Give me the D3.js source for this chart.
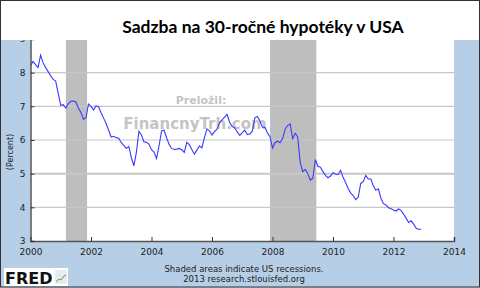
<!DOCTYPE html>
<html>
<head>
<meta charset="utf-8">
<script src="https://cdn.jsdelivr.net/npm/d3@7"></script>
<style>
  body { margin: 0; padding: 0; }
  svg { display: block; }
</style>
</head>
<body>
<svg id="chart" width="480" height="288"></svg>
<script>
// monthly 30-year mortgage rate, Jan 2000 .. Dec 2012
var years = [2000, 2001, 2002, 2003, 2004, 2005, 2006, 2007, 2008, 2009, 2010, 2011, 2012];
var rates = [
  [8.21, 8.33, 8.24, 8.15, 8.52, 8.29, 8.15, 8.03, 7.91, 7.80, 7.75, 7.38],
  [7.03, 7.05, 6.95, 7.08, 7.15, 7.16, 7.13, 6.95, 6.82, 6.62, 6.66, 7.07],
  [7.00, 6.89, 7.01, 6.99, 6.81, 6.65, 6.49, 6.29, 6.09, 6.11, 6.07, 6.05],
  [5.92, 5.84, 5.75, 5.81, 5.48, 5.23, 5.63, 6.26, 6.15, 5.95, 5.93, 5.88],
  [5.71, 5.64, 5.45, 5.83, 6.27, 6.29, 6.06, 5.87, 5.75, 5.72, 5.73, 5.75],
  [5.71, 5.63, 5.93, 5.86, 5.72, 5.58, 5.70, 5.82, 5.77, 6.07, 6.33, 6.27],
  [6.15, 6.25, 6.32, 6.51, 6.60, 6.68, 6.76, 6.52, 6.40, 6.36, 6.24, 6.14],
  [6.22, 6.29, 6.16, 6.18, 6.26, 6.66, 6.70, 6.57, 6.38, 6.38, 6.21, 6.10],
  [5.76, 5.92, 5.97, 5.92, 6.04, 6.32, 6.43, 6.48, 6.04, 6.20, 6.09, 5.33],
  [5.06, 5.13, 5.00, 4.81, 4.86, 5.42, 5.22, 5.19, 5.06, 4.95, 4.88, 4.93],
  [5.03, 4.99, 4.97, 5.10, 4.89, 4.74, 4.56, 4.43, 4.35, 4.23, 4.30, 4.71],
  [4.76, 4.95, 4.84, 4.84, 4.64, 4.51, 4.55, 4.27, 4.11, 4.07, 3.99, 3.96],
  [3.92, 3.89, 3.95, 3.91, 3.80, 3.68, 3.55, 3.60, 3.50, 3.38, 3.35, 3.35]
];
var recessions = [[2001.17, 2001.87], [2007.92, 2009.45]];
var xTicks = [2000, 2002, 2004, 2006, 2008, 2010, 2012, 2014];
var yTicks = [3, 4, 5, 6, 7, 8, 9];
var title = "Sadzba na 30-ročné hypotéky v USA";

var svg = d3.select("#chart"),
    width = 480, height = 288,
    margin = {top: 39, left: 30.5, bottom: 47, right: 26};

var data = [];
years.forEach(function(y, i) {
    rates[i].forEach(function(v, m) {
        data.push({t: y + m / 12, v: v});
    });
});

var x = d3.scaleLinear().domain([2000, 2014]).range([margin.left, width - margin.right]);
var y = d3.scaleLinear().domain([3, 9]).range([height - margin.bottom, margin.top]);

// background
svg.append("rect").attr("width", width).attr("height", height).attr("fill", "#b6cfe6");
svg.append("rect")
    .attr("x", x(2000)).attr("y", y(9))
    .attr("width", x(2014) - x(2000)).attr("height", y(3) - y(9))
    .attr("fill", "#fff");

// recessions
svg.selectAll(".rec").data(recessions).enter().append("rect")
    .attr("class", "rec")
    .attr("x", d => x(d[0]))
    .attr("y", y(9))
    .attr("width", d => x(d[1]) - x(d[0]))
    .attr("height", y(3) - y(9))
    .attr("fill", "#bebebe");

// grid
svg.selectAll(".grid").data(yTicks.slice(1)).enter().append("line")
    .attr("class", "grid")
    .attr("x1", x(2000)).attr("x2", x(2014))
    .attr("y1", d => y(d)).attr("y2", d => y(d))
    .attr("stroke", "#c8c8c8").attr("stroke-width", d => d == 5 ? 2 : 1.2);

// watermark
svg.append("text").attr("x", 201).attr("y", 104)
    .attr("text-anchor", "middle")
    .style("font", "bold 11px 'DejaVu Sans'").attr("fill", "#c4c4c4")
    .text("Preložil:");
svg.append("text").attr("x", 195).attr("y", 129)
    .attr("text-anchor", "middle")
    .style("font", "bold 15px 'DejaVu Sans'").attr("fill", "#c4c4c4")
    .text("FinancnyTrh.com");

// line
var line = d3.line().x(d => x(d.t)).y(d => y(d.v));
svg.append("path").datum(data)
    .attr("d", line)
    .attr("fill", "none")
    .attr("stroke", "#3a3aff")
    .attr("stroke-width", 1.1);

// axes
var xAxis = svg.append("g")
    .attr("transform", `translate(0,${y(3)})`)
    .call(d3.axisBottom(x).tickValues(xTicks).tickFormat(d3.format("d")).tickSize(-4).tickPadding(8));
var yAxis = svg.append("g")
    .attr("transform", `translate(${x(2000)},0)`)
    .call(d3.axisLeft(y).tickValues(yTicks).tickFormat(d3.format("d")).tickSize(-4).tickPadding(5));
[xAxis, yAxis].forEach(function(a) {
    a.select(".domain").attr("stroke", "#555").attr("stroke-width", 1.5);
    a.selectAll(".tick line").attr("stroke", "#333");
    a.selectAll("text").style("font", "9px 'DejaVu Sans'").attr("fill", "#222");
});

svg.append("text")
    .attr("transform", `translate(13,${(y(3) + y(9)) / 2 + 12}) rotate(-90)`)
    .attr("text-anchor", "middle")
    .style("font", "8px 'DejaVu Sans'").attr("fill", "#222")
    .text("(Percent)");

// title band
svg.append("rect").attr("x", 0).attr("y", 0).attr("width", width).attr("height", 40).attr("fill", "#fff");
svg.append("text").attr("x", 263).attr("y", 33)
    .attr("text-anchor", "middle")
    .style("font", "bold 17.5px Lato").attr("fill", "#000")
    .text(title);

// footer
svg.append("text").attr("x", 244).attr("y", 272)
    .attr("text-anchor", "middle")
    .style("font", "8.5px 'DejaVu Sans'").attr("fill", "#222")
    .text("Shaded areas indicate US recessions.");
svg.append("text").attr("x", 244).attr("y", 282)
    .attr("text-anchor", "middle")
    .style("font", "8.5px 'DejaVu Sans'").attr("fill", "#222")
    .text("2013 research.stlouisfed.org");

// FRED logo
svg.append("rect").attr("x", 4).attr("y", 268).attr("width", 64).attr("height", 18).attr("fill", "#fff");
svg.append("text").attr("x", 5).attr("y", 283.5)
    .style("font", "bold 16px 'DejaVu Sans'").attr("fill", "#111")
    .text("FRED");
svg.append("rect").attr("x", 55).attr("y", 270).attr("width", 12).attr("height", 14).attr("fill", "#e6ecef");
svg.append("path").attr("d", "M56,282 L59,279 L61,280 L64,276 L66,275")
    .attr("fill", "none").attr("stroke", "#6a9a4a").attr("stroke-width", 1);

// frame
svg.append("rect").attr("x", 0.5).attr("y", 0.5).attr("width", width - 1).attr("height", height - 1.5)
    .attr("fill", "none").attr("stroke", "#333");
</script>
</body>
</html>
